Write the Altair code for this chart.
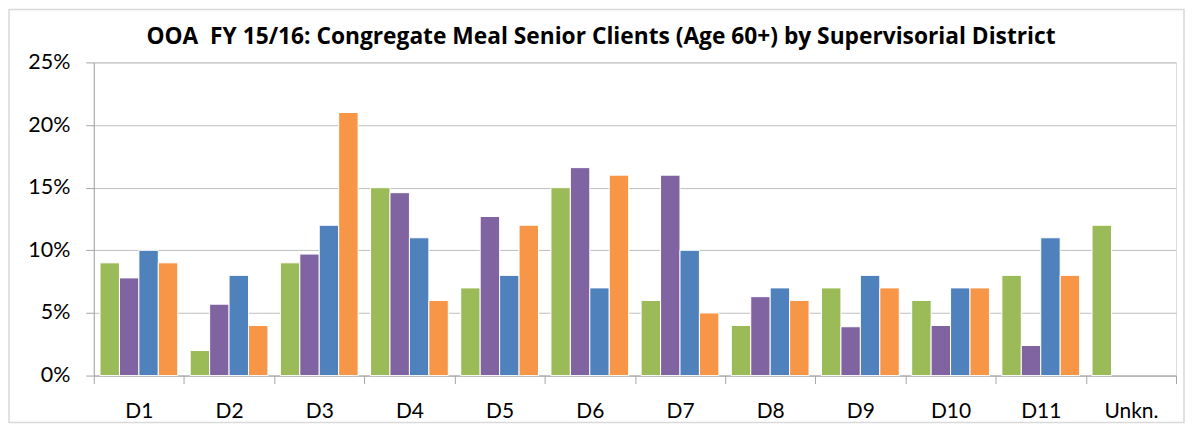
import altair as alt
import pandas as pd

districts = ["D1", "D2", "D3", "D4", "D5", "D6", "D7", "D8", "D9", "D10", "D11", "Unkn."]
series_names = ["Series 1", "Series 2", "Series 3", "Series 4"]
series_1 = [9.0, 2.0, 9.0, 15.0, 7.0, 15.0, 6.0, 4.0, 7.0, 6.0, 8.0, 12.0]
series_2 = [7.8, 5.7, 9.7, 14.6, 12.7, 16.6, 16.0, 6.3, 3.9, 4.0, 2.4, None]
series_3 = [10.0, 8.0, 12.0, 11.0, 8.0, 7.0, 10.0, 7.0, 8.0, 7.0, 11.0, None]
series_4 = [9.0, 4.0, 21.0, 6.0, 12.0, 16.0, 5.0, 6.0, 7.0, 7.0, 8.0, None]
colors = ["#9BBB59", "#8064A2", "#4F81BD", "#F79646"]
y_ticks = [0, 0.05, 0.10, 0.15, 0.20, 0.25]
title_text = "OOA\u00a0 FY 15/16: Congregate Meal Senior Clients (Age 60+) by Supervisorial District"

rows = []
for name, vals in zip(series_names, [series_1, series_2, series_3, series_4]):
    for d, v in zip(districts, vals):
        if v is not None:
            rows.append({"district": d, "series": name, "value": v / 100})
df = pd.DataFrame(rows)

FONT = "Lato"
TITLE_FONT = "Open Sans"

bars = alt.Chart(df).mark_bar(stroke="white", strokeWidth=1).encode(
    x=alt.X("district:N", sort=districts,
            scale=alt.Scale(paddingInner=0, paddingOuter=0),
            axis=alt.Axis(title=None, labelAngle=0, tickBand="extent", tickSize=8,
                          labelPadding=17, labelFontSize=21, labelColor="#000000",
                          labelFont=FONT,
                          domainColor="#A6A6A6", tickColor="#A6A6A6", grid=False)),
    xOffset=alt.XOffset("series:N", sort=series_names,
                        scale=alt.Scale(domain=series_names, paddingInner=0, paddingOuter=0.32)),
    y=alt.Y("value:Q", scale=alt.Scale(domain=[0, 0.25]),
            axis=alt.Axis(title=None, values=y_ticks, format=".0%", tickSize=8,
                          labelPadding=16, labelFontSize=21.5, labelColor="#000000",
                          labelFont=FONT,
                          domainColor="#A6A6A6", tickColor="#A6A6A6",
                          gridColor="#BFBFBF", grid=True)),
    color=alt.Color("series:N", scale=alt.Scale(domain=series_names, range=colors), legend=None),
)

border = alt.Chart(pd.DataFrame({"k": [0]})).mark_rect(
    fill="transparent", stroke="#D9D9D9", strokeWidth=1.5
).encode(
    x=alt.value(-85), x2=alt.value(1093), y=alt.value(-53), y2=alt.value(361)
)

chart = alt.layer(border, bars).properties(
    width=1085, height=314,
    title=alt.TitleParams(
        title_text,
        fontSize=22.8, font=TITLE_FONT, fontWeight="bold", color="#000000",
        anchor="middle", dx=-34, offset=-40),
    autosize=alt.AutoSizeParams(type="none"),
    padding={"left": 86, "top": 54, "right": 10, "bottom": 49},
).configure_view(stroke=None).configure(background="white")

chart.save("out.html", embed_options={"renderer": "svg", "actions": False})
